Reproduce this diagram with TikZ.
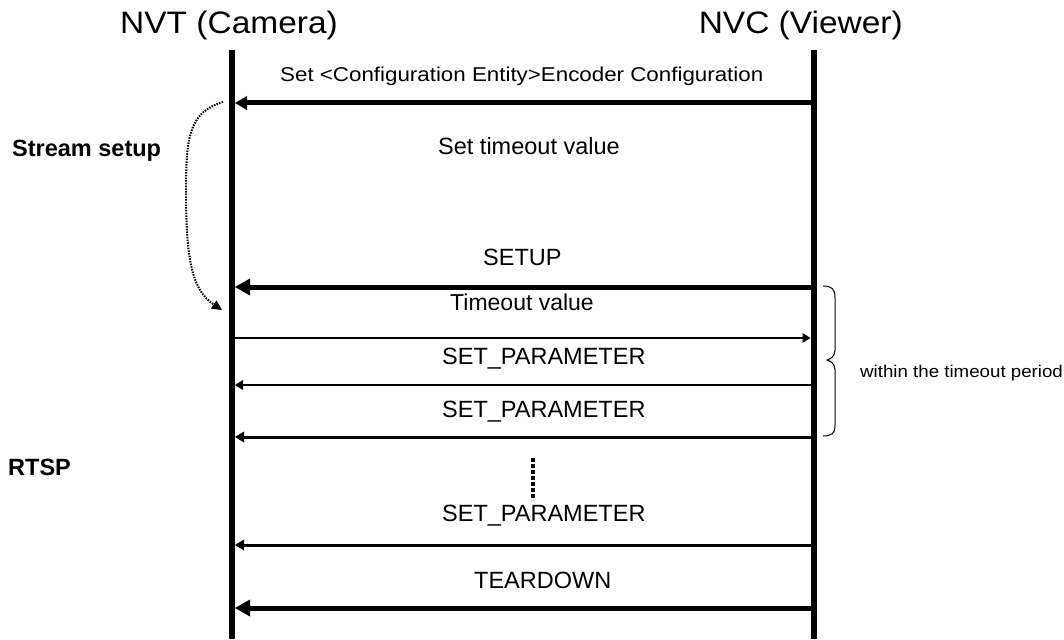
\documentclass[tikz,border=0pt]{standalone}
\usepackage{fontspec}
\usepackage{graphicx}
\setmainfont{Liberation Sans}
\usetikzlibrary{arrows.meta}
\newcommand\hs[2]{\scalebox{#1}[1]{#2}}
\begin{document}
\begin{tikzpicture}[x=1pt,y=-1pt,
  life/.style={line width=6.5pt},
  txt/.style={inner sep=0pt,anchor=base west},
  title/.style={inner sep=0pt,font=\fontsize{31}{33}\selectfont},
  big/.style={txt,font=\fontsize{23.5}{26}\selectfont},
  side/.style={txt,font=\bfseries\fontsize{23.5}{26}\selectfont},
  msgA/.style={line width=5pt,-{Triangle[length=12pt,width=14pt,line width=0pt]}},
  msgB/.style={line width=5pt,-{Triangle[length=15pt,width=17pt,line width=0pt]}},
  msgM/.style={line width=3pt,-{Triangle[length=9pt,width=11pt,line width=0pt]}},
  msgT/.style={line width=2pt,-{Triangle[length=8pt,width=10pt,line width=0pt]}},
]
\useasboundingbox (0,0) rectangle (1064,639);
% lifelines
\coordinate (Lt) at (232,50); \coordinate (Lb) at (232,639);
\coordinate (Rt) at (814,50); \coordinate (Rb) at (814,639);
\draw[life] (Lt) -- (Lb);
\draw[life] (Rt) -- (Rb);
% titles
\node[title,anchor=base west] (nvt) at (120,34) {\hs{1.08}{NVT (Camera)}};
\node[title,anchor=base east] (nvc) at (903,34) {\hs{1.08}{NVC (Viewer)}};
% message endpoints
\coordinate (r1) at (814,103); \coordinate (l1) at (235,103);
\coordinate (r2) at (814,287); \coordinate (l2) at (235,287);
\coordinate (l3) at (232,338); \coordinate (r3) at (810.5,338);
\coordinate (r4) at (814,385); \coordinate (l4) at (235,385);
\coordinate (r5) at (814,437); \coordinate (l5) at (235,437);
\coordinate (r6) at (814,545); \coordinate (l6) at (235,545);
\coordinate (r7) at (814,608); \coordinate (l7) at (235,608);
\draw[msgA] (r1) -- (l1);
\draw[msgB] (r2) -- (l2);
\draw[msgT] (l3) -- (r3);
\draw[msgT] (r4) -- (l4);
\draw[msgM] (r5) -- (l5);
\draw[msgM] (r6) -- (l6);
\draw[msgB] (r7) -- (l7);
% labels
\node[txt,font=\fontsize{20}{22}\selectfont] (t1) at (280,82) {\hs{1.117}{Set <Configuration Entity>Encoder Configuration}};
\node[big] (t2) at (438,155) {Set timeout value};
\node[big] (t3) at (483,265) {SETUP};
\node[txt,font=\fontsize{23}{25}\selectfont] (t4) at (450,310) {Timeout value};
\node[big] (t5) at (442,364) {SET\_PARAMETER};
\node[big] (t6) at (442,417) {SET\_PARAMETER};
\node[big] (t7) at (442,521) {SET\_PARAMETER};
\node[big] (t8) at (474,588) {TEARDOWN};
\node[txt,font=\fontsize{17}{19}\selectfont] (t9) at (860,377) {\hs{1.1}{within the timeout period}};
\node[side] (s1) at (12,157) {Stream setup};
\node[side] (s2) at (8,475) {RTSP};
% dotted curved arrow
\coordinate (c0) at (223,102);
\coordinate (c1) at (222,310);
\draw[line width=2pt,dash pattern=on 1.5pt off 1.2pt,-{Triangle[length=10pt,width=10pt,line width=0pt]}]
  (c0) .. controls (190,112) and (186,135) .. (186,190)
  .. controls (186,260) and (192,290) .. (c1);
% vertical dotted continuation
\coordinate (v0) at (533,458); \coordinate (v1) at (533,500);
\draw[line width=4.5pt,dash pattern=on 4pt off 2pt] (v0) -- (v1);
% brace
\coordinate (b0) at (823,286); \coordinate (bm) at (827,360); \coordinate (b1) at (823,436);
\draw[line width=1pt] (b0) .. controls (832,286) and (835,289) .. (835,298)
  -- (835,350) .. controls (835,356) and (831,359) .. (bm)
  .. controls (831,361) and (835,364) .. (835,370)
  -- (835,426) .. controls (835,433) and (832,436) .. (b1);
\end{tikzpicture}
\end{document}
